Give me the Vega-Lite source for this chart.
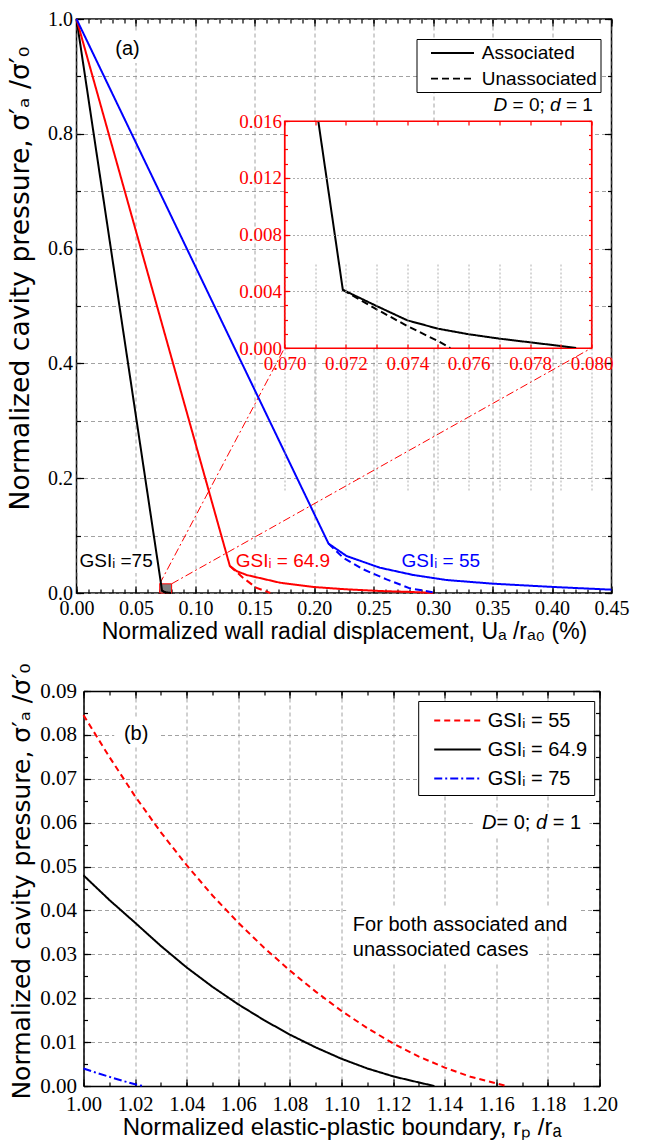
{
  "$schema": "https://vega.github.io/schema/vega-lite/v6.json",
  "padding": {"left": 6.5, "top": 8, "right": 0, "bottom": 0},
  "spacing": 98,
  "bounds": "flush",
  "resolve": {"scale": {"color": "independent", "strokeDash": "independent"}, "legend": {"color": "independent", "strokeDash": "independent"}},
  "datasets": {
    "curvesA": [
      {"g": "75", "t": "Associated", "u": 0, "p": 1},
      {"g": "75", "t": "Associated", "u": 0.0711, "p": 0.016},
      {"g": "75", "t": "Associated", "u": 0.0719, "p": 0.0041},
      {"g": "75", "t": "Associated", "u": 0.073, "p": 0.00296},
      {"g": "75", "t": "Associated", "u": 0.074, "p": 0.00195},
      {"g": "75", "t": "Associated", "u": 0.075, "p": 0.00136},
      {"g": "75", "t": "Associated", "u": 0.076, "p": 0.00097},
      {"g": "75", "t": "Associated", "u": 0.077, "p": 0.00066},
      {"g": "75", "t": "Associated", "u": 0.078, "p": 0.0004},
      {"g": "75", "t": "Associated", "u": 0.079, "p": 0.00014},
      {"g": "75", "t": "Associated", "u": 0.0795, "p": 0},
      {"g": "75", "t": "Unassociated", "u": 0.0719, "p": 0.0041},
      {"g": "75", "t": "Unassociated", "u": 0.073, "p": 0.00273},
      {"g": "75", "t": "Unassociated", "u": 0.074, "p": 0.00155},
      {"g": "75", "t": "Unassociated", "u": 0.075, "p": 0.00049},
      {"g": "75", "t": "Unassociated", "u": 0.0754, "p": 0},
      {"g": "64.9", "t": "Associated", "u": 0, "p": 1},
      {"g": "64.9", "t": "Associated", "u": 0.129, "p": 0.047},
      {"g": "64.9", "t": "Associated", "u": 0.1346, "p": 0.0383},
      {"g": "64.9", "t": "Associated", "u": 0.143, "p": 0.0314},
      {"g": "64.9", "t": "Associated", "u": 0.171, "p": 0.018},
      {"g": "64.9", "t": "Associated", "u": 0.199, "p": 0.0105},
      {"g": "64.9", "t": "Associated", "u": 0.227, "p": 0.0064},
      {"g": "64.9", "t": "Associated", "u": 0.255, "p": 0.0035},
      {"g": "64.9", "t": "Associated", "u": 0.283, "p": 0.0017},
      {"g": "64.9", "t": "Associated", "u": 0.3, "p": 0},
      {"g": "64.9", "t": "Unassociated", "u": 0.129, "p": 0.047},
      {"g": "64.9", "t": "Unassociated", "u": 0.14, "p": 0.0267},
      {"g": "64.9", "t": "Unassociated", "u": 0.151, "p": 0.0093},
      {"g": "64.9", "t": "Unassociated", "u": 0.163, "p": 0},
      {"g": "55", "t": "Associated", "u": 0, "p": 1},
      {"g": "55", "t": "Associated", "u": 0.212, "p": 0.086},
      {"g": "55", "t": "Associated", "u": 0.2271, "p": 0.0645},
      {"g": "55", "t": "Associated", "u": 0.2551, "p": 0.0441},
      {"g": "55", "t": "Associated", "u": 0.2832, "p": 0.0314},
      {"g": "55", "t": "Associated", "u": 0.3112, "p": 0.0226},
      {"g": "55", "t": "Associated", "u": 0.3505, "p": 0.0162},
      {"g": "55", "t": "Associated", "u": 0.401, "p": 0.0105},
      {"g": "55", "t": "Associated", "u": 0.45, "p": 0.0058},
      {"g": "55", "t": "Unassociated", "u": 0.212, "p": 0.086},
      {"g": "55", "t": "Unassociated", "u": 0.2243, "p": 0.0615},
      {"g": "55", "t": "Unassociated", "u": 0.2411, "p": 0.0413},
      {"g": "55", "t": "Unassociated", "u": 0.2608, "p": 0.0238},
      {"g": "55", "t": "Unassociated", "u": 0.2804, "p": 0.0081},
      {"g": "55", "t": "Unassociated", "u": 0.2972, "p": 0.0023},
      {"g": "55", "t": "Unassociated", "u": 0.303, "p": 0}
    ],
    "curvesB": [
      {"g": "GSIᵢ = 55", "r": 1, "p": 0.0845},
      {"g": "GSIᵢ = 55", "r": 1.01, "p": 0.075},
      {"g": "GSIᵢ = 55", "r": 1.02, "p": 0.066},
      {"g": "GSIᵢ = 55", "r": 1.03, "p": 0.0578},
      {"g": "GSIᵢ = 55", "r": 1.04, "p": 0.0503},
      {"g": "GSIᵢ = 55", "r": 1.05, "p": 0.0434},
      {"g": "GSIᵢ = 55", "r": 1.06, "p": 0.0372},
      {"g": "GSIᵢ = 55", "r": 1.07, "p": 0.0315},
      {"g": "GSIᵢ = 55", "r": 1.08, "p": 0.0263},
      {"g": "GSIᵢ = 55", "r": 1.09, "p": 0.0215},
      {"g": "GSIᵢ = 55", "r": 1.1, "p": 0.0171},
      {"g": "GSIᵢ = 55", "r": 1.11, "p": 0.0132},
      {"g": "GSIᵢ = 55", "r": 1.12, "p": 0.0097},
      {"g": "GSIᵢ = 55", "r": 1.13, "p": 0.0067},
      {"g": "GSIᵢ = 55", "r": 1.14, "p": 0.0042},
      {"g": "GSIᵢ = 55", "r": 1.15, "p": 0.0021},
      {"g": "GSIᵢ = 55", "r": 1.16, "p": 0.0006},
      {"g": "GSIᵢ = 55", "r": 1.164, "p": 0},
      {"g": "GSIᵢ = 64.9", "r": 1, "p": 0.048},
      {"g": "GSIᵢ = 64.9", "r": 1.01, "p": 0.0424},
      {"g": "GSIᵢ = 64.9", "r": 1.02, "p": 0.0372},
      {"g": "GSIᵢ = 64.9", "r": 1.03, "p": 0.0319},
      {"g": "GSIᵢ = 64.9", "r": 1.04, "p": 0.027},
      {"g": "GSIᵢ = 64.9", "r": 1.05, "p": 0.0226},
      {"g": "GSIᵢ = 64.9", "r": 1.06, "p": 0.0186},
      {"g": "GSIᵢ = 64.9", "r": 1.07, "p": 0.015},
      {"g": "GSIᵢ = 64.9", "r": 1.08, "p": 0.0117},
      {"g": "GSIᵢ = 64.9", "r": 1.09, "p": 0.0088},
      {"g": "GSIᵢ = 64.9", "r": 1.1, "p": 0.0062},
      {"g": "GSIᵢ = 64.9", "r": 1.11, "p": 0.004},
      {"g": "GSIᵢ = 64.9", "r": 1.12, "p": 0.0022},
      {"g": "GSIᵢ = 64.9", "r": 1.13, "p": 0.0008},
      {"g": "GSIᵢ = 64.9", "r": 1.136, "p": 0},
      {"g": "GSIᵢ = 75", "r": 1, "p": 0.004},
      {"g": "GSIᵢ = 75", "r": 1.005, "p": 0.003},
      {"g": "GSIᵢ = 75", "r": 1.01, "p": 0.0021},
      {"g": "GSIᵢ = 75", "r": 1.015, "p": 0.0012},
      {"g": "GSIᵢ = 75", "r": 1.02, "p": 0.0004},
      {"g": "GSIᵢ = 75", "r": 1.023, "p": 0}
    ]
  },
  "vconcat": [
    {
      "width": 535,
      "height": 574,
      "resolve": {"scale": {"x": "independent", "y": "independent"}, "axis": {"x": "independent", "y": "independent"}},
      "layer": [
        {
          "data": {"values": [{}]},
          "mark": {"type": "rect", "fill": "white"},
          "encoding": {
            "x": {"datum": 0.0278, "type": "quantitative", "scale": {"domain": [0, 0.45]},
              "axis": {"orient": "bottom", "values": [0, 0.05, 0.1, 0.15, 0.2, 0.25, 0.3, 0.35, 0.4, 0.45], "format": ".2f", "tickSize": -7, "labelPadding": 12, "labelFontSize": 20, "grid": true, "title": "Normalized wall radial displacement, Uₐ /rₐ₀ (%)", "titleFontSize": 23, "titlePadding": 2}},
            "x2": {"datum": 0.058},
            "y": {"datum": 0.9233, "type": "quantitative", "scale": {"domain": [0, 1]},
              "axis": {"orient": "left", "values": [0, 0.2, 0.4, 0.6, 0.8, 1], "format": ".1f", "tickSize": -7, "labelPadding": 11, "labelFontSize": 20, "grid": false, "title": "Normalized cavity pressure, σ′ₐ /σ′₀", "titleFont": "DejaVu Sans", "titleFontSize": 26.6, "titleX": -42, "titleY": 259, "titleBaseline": "bottom"}},
            "y2": {"datum": 0.9756}
          }
        },
        {
          "data": {"values": [{}]},
          "mark": {"type": "rect", "fill": "white"},
          "encoding": {
            "x": {"datum": 0.345, "type": "quantitative", "scale": {"domain": [0, 0.45]},
              "axis": {"orient": "bottom", "values": [0,0.01,0.02,0.03,0.04,0.05,0.06,0.07,0.08,0.09,0.1,0.11,0.12,0.13,0.14,0.15,0.16,0.17,0.18,0.19,0.2,0.21,0.22,0.23,0.24,0.25,0.26,0.27,0.28,0.29,0.3,0.31,0.32,0.33,0.34,0.35,0.36,0.37,0.38,0.39,0.4,0.41,0.42,0.43,0.44,0.45], "labels": false, "tickSize": -4, "grid": false, "title": null}},
            "x2": {"datum": 0.4376},
            "y": {"datum": 0.8223, "type": "quantitative", "scale": {"domain": [0, 1]},
              "axis": {"orient": "left", "values": [0,0.1,0.2,0.3,0.4,0.5,0.6,0.7,0.8,0.9,1], "labels": false, "tickSize": -4, "grid": true, "title": null}},
            "y2": {"datum": 0.8775}
          }
        },
        {
          "data": {"values": [{}]},
          "mark": {"type": "rect", "fill": "white"},
          "encoding": {
            "x": {"datum": 0.001, "type": "quantitative", "scale": {"domain": [0, 0.45]},
              "axis": {"orient": "top", "values": [0, 0.05, 0.1, 0.15, 0.2, 0.25, 0.3, 0.35, 0.4, 0.45], "labels": false, "tickSize": -7, "grid": false, "title": null}},
            "x2": {"datum": 0.0665},
            "y": {"datum": 0.035, "type": "quantitative", "scale": {"domain": [0, 1]},
              "axis": {"orient": "right", "values": [0, 0.2, 0.4, 0.6, 0.8, 1], "labels": false, "tickSize": -7, "grid": false, "title": null}},
            "y2": {"datum": 0.0767}
          }
        },
        {
          "data": {"values": [{}]},
          "mark": {"type": "rect", "fill": "white"},
          "encoding": {
            "x": {"datum": 0.1312, "type": "quantitative", "scale": {"domain": [0, 0.45]},
              "axis": {"orient": "top", "values": [0,0.01,0.02,0.03,0.04,0.05,0.06,0.07,0.08,0.09,0.1,0.11,0.12,0.13,0.14,0.15,0.16,0.17,0.18,0.19,0.2,0.21,0.22,0.23,0.24,0.25,0.26,0.27,0.28,0.29,0.3,0.31,0.32,0.33,0.34,0.35,0.36,0.37,0.38,0.39,0.4,0.41,0.42,0.43,0.44,0.45], "labels": false, "tickSize": -4, "grid": false, "title": null}},
            "x2": {"datum": 0.2205},
            "y": {"datum": 0.035, "type": "quantitative", "scale": {"domain": [0, 1]},
              "axis": {"orient": "right", "values": [0,0.1,0.2,0.3,0.4,0.5,0.6,0.7,0.8,0.9,1], "labels": false, "tickSize": -4, "grid": false, "title": null}},
            "y2": {"datum": 0.0767}
          }
        },
        {
          "data": {"values": [{}]},
          "mark": {"type": "rect", "fill": "white"},
          "encoding": {
            "x": {"datum": 0.2717, "type": "quantitative", "scale": {"domain": [0, 0.45]}, "axis": null},
            "x2": {"datum": 0.3449},
            "y": {"datum": 0.035, "type": "quantitative", "scale": {"domain": [0, 1]}, "axis": null},
            "y2": {"datum": 0.0767}
          }
        },
        {
          "data": {"values": [{}]},
          "mark": {"type": "rect", "fill": "#7f7f7f", "stroke": "red", "strokeWidth": 1},
          "encoding": {
            "x": {"datum": 0.07, "type": "quantitative", "scale": {"domain": [0, 0.45]}, "axis": null},
            "x2": {"datum": 0.08},
            "y": {"datum": 0, "type": "quantitative", "scale": {"domain": [0, 1]}, "axis": null},
            "y2": {"datum": 0.016}
          }
        },
        {
          "data": {"values": [{}]},
          "mark": {"type": "rule", "color": "red", "strokeWidth": 1, "strokeDash": [8, 3, 2, 3]},
          "encoding": {
            "x": {"datum": 0.07, "type": "quantitative", "scale": {"domain": [0, 0.45]}, "axis": null},
            "x2": {"datum": 0.175},
            "y": {"datum": 0.016, "type": "quantitative", "scale": {"domain": [0, 1]}, "axis": null},
            "y2": {"datum": 0.4268}
          }
        },
        {
          "data": {"values": [{}]},
          "mark": {"type": "rule", "color": "red", "strokeWidth": 1, "strokeDash": [8, 3, 2, 3]},
          "encoding": {
            "x": {"datum": 0.08, "type": "quantitative", "scale": {"domain": [0, 0.45]}, "axis": null},
            "x2": {"datum": 0.4332},
            "y": {"datum": 0.016, "type": "quantitative", "scale": {"domain": [0, 1]}, "axis": null},
            "y2": {"datum": 0.4268}
          }
        },
        {
          "data": {"name": "curvesA"},
          "mark": {"type": "line", "strokeWidth": 2},
          "encoding": {
            "x": {"field": "u", "type": "quantitative", "scale": {"domain": [0, 0.45]}, "axis": null},
            "y": {"field": "p", "type": "quantitative", "scale": {"domain": [0, 1]}, "axis": null},
            "color": {"field": "g", "type": "nominal", "scale": {"domain": ["55", "64.9", "75"], "range": ["#0000ff", "#ff0000", "#000000"]}, "legend": null},
            "strokeDash": {"field": "t", "type": "nominal", "scale": {"domain": ["Associated", "Unassociated"], "range": [[1, 0], [7, 4]]},
              "legend": {"orient": "none", "legendX": 340, "legendY": 20, "title": null, "padding": 3, "strokeColor": "black", "fillColor": "white", "symbolType": "M-2.15,0H2.15", "symbolSize": 400, "symbolStrokeWidth": 1.8, "symbolStrokeColor": "black", "symbolOffset": 22, "labelOffset": 18.3, "labelFontSize": 19, "rowPadding": 4.6, "labelLimit": 300}}
          }
        },
        {
          "data": {"values": [{}]},
          "mark": {"type": "text", "text": "GSIᵢ =75", "fontSize": 19, "align": "left", "baseline": "alphabetic"},
          "encoding": {
            "x": {"datum": 0.0025, "type": "quantitative", "scale": {"domain": [0, 0.45]}, "axis": null},
            "y": {"datum": 0.0453, "type": "quantitative", "scale": {"domain": [0, 1]}, "axis": null},
            "color": {"datum": "75", "type": "nominal"}
          }
        },
        {
          "data": {"values": [{}]},
          "mark": {"type": "text", "text": "GSIᵢ = 64.9", "fontSize": 19, "align": "left", "baseline": "alphabetic"},
          "encoding": {
            "x": {"datum": 0.134, "type": "quantitative", "scale": {"domain": [0, 0.45]}, "axis": null},
            "y": {"datum": 0.0453, "type": "quantitative", "scale": {"domain": [0, 1]}, "axis": null},
            "color": {"datum": "64.9", "type": "nominal"}
          }
        },
        {
          "data": {"values": [{}]},
          "mark": {"type": "text", "text": "GSIᵢ = 55", "fontSize": 19, "align": "left", "baseline": "alphabetic"},
          "encoding": {
            "x": {"datum": 0.2734, "type": "quantitative", "scale": {"domain": [0, 0.45]}, "axis": null},
            "y": {"datum": 0.0453, "type": "quantitative", "scale": {"domain": [0, 1]}, "axis": null},
            "color": {"datum": "55", "type": "nominal"}
          }
        },
        {
          "data": {"values": [{}]},
          "mark": {"type": "text", "text": "(a)", "fontSize": 20, "align": "center", "baseline": "middle", "color": "black"},
          "encoding": {
            "x": {"datum": 0.0429, "type": "quantitative", "scale": {"domain": [0, 0.45]}, "axis": null},
            "y": {"datum": 0.9477, "type": "quantitative", "scale": {"domain": [0, 1]}, "axis": null}
          }
        },
        {
          "data": {"values": [{}]},
          "mark": {"type": "text", "text": "D", "fontStyle": "italic", "fontSize": 19, "align": "left", "baseline": "alphabetic", "color": "black", "dx": 0},
          "encoding": {
            "x": {"datum": 0.3508, "type": "quantitative", "scale": {"domain": [0, 0.45]}, "axis": null},
            "y": {"datum": 0.8397, "type": "quantitative", "scale": {"domain": [0, 1]}, "axis": null}
          }
        },
        {
          "data": {"values": [{}]},
          "mark": {"type": "text", "text": "= 0;", "fontSize": 19, "align": "left", "baseline": "alphabetic", "color": "black", "dx": 19},
          "encoding": {
            "x": {"datum": 0.3508, "type": "quantitative", "scale": {"domain": [0, 0.45]}, "axis": null},
            "y": {"datum": 0.8397, "type": "quantitative", "scale": {"domain": [0, 1]}, "axis": null}
          }
        },
        {
          "data": {"values": [{}]},
          "mark": {"type": "text", "text": "d", "fontStyle": "italic", "fontSize": 19, "align": "left", "baseline": "alphabetic", "color": "black", "dx": 56.5},
          "encoding": {
            "x": {"datum": 0.3508, "type": "quantitative", "scale": {"domain": [0, 0.45]}, "axis": null},
            "y": {"datum": 0.8397, "type": "quantitative", "scale": {"domain": [0, 1]}, "axis": null}
          }
        },
        {
          "data": {"values": [{}]},
          "mark": {"type": "text", "text": "= 1", "fontSize": 19, "align": "left", "baseline": "alphabetic", "color": "black", "dx": 72.4},
          "encoding": {
            "x": {"datum": 0.3508, "type": "quantitative", "scale": {"domain": [0, 0.45]}, "axis": null},
            "y": {"datum": 0.8397, "type": "quantitative", "scale": {"domain": [0, 1]}, "axis": null}
          }
        },
        {
          "data": {"values": [{}]},
          "mark": {"type": "rect", "fill": "white", "stroke": "red", "strokeWidth": 1.2},
          "encoding": {
            "x": {"datum": 0.07, "type": "quantitative", "scale": {"domain": [0.07, 0.08], "range": [208, 515]},
              "axis": {"orient": "bottom", "offset": -245, "zindex": 1, "values": [0.07,0.071,0.072,0.073,0.074,0.075,0.076,0.077,0.078,0.079,0.08], "labelExpr": "round(datum.value*1000) % 2 == 0 ? format(datum.value, '.3f') : ''", "labelFontSize": 19, "labelColor": "red", "tickColor": "red", "tickSize": -4, "labelPadding": 10, "domain": true, "domainColor": "red", "domainWidth": 1.2, "grid": true, "gridColor": "#9a9a9a", "gridDash": [2, 2], "title": null}},
            "x2": {"datum": 0.08},
            "y": {"datum": 0, "type": "quantitative", "scale": {"domain": [0, 0.016], "range": [329, 102]},
              "axis": {"orient": "left", "offset": -208, "zindex": 1, "values": [0, 0.004, 0.008, 0.012, 0.016], "format": ".3f", "labelFontSize": 19, "labelColor": "red", "tickColor": "red", "tickSize": -5, "labelPadding": 8, "domain": true, "domainColor": "red", "domainWidth": 1.2, "grid": true, "gridColor": "#9a9a9a", "gridDash": [2, 2], "title": null}},
            "y2": {"datum": 0.016}
          }
        },
        {
          "data": {"name": "curvesA"},
          "transform": [{"filter": "datum.g == '75' && datum.t == 'Associated' && datum.u >= 0.0711"}],
          "mark": {"type": "line", "strokeWidth": 2, "color": "black"},
          "encoding": {
            "x": {"field": "u", "type": "quantitative", "scale": {"domain": [0.07, 0.08], "range": [208, 515]},
              "axis": {"orient": "top", "offset": -102, "zindex": 1, "values": [0.07,0.071,0.072,0.073,0.074,0.075,0.076,0.077,0.078,0.079,0.08], "labels": false, "tickColor": "red", "tickSize": -4, "domain": true, "domainColor": "red", "domainWidth": 1.2, "grid": false, "title": null}},
            "y": {"field": "p", "type": "quantitative", "scale": {"domain": [0, 0.016], "range": [329, 102]},
              "axis": {"orient": "left", "offset": -208, "zindex": 1, "values": [0,0.001,0.002,0.003,0.004,0.005,0.006,0.007,0.008,0.009,0.01,0.011,0.012,0.013,0.014,0.015,0.016], "labels": false, "tickColor": "red", "tickSize": -3, "domain": false, "grid": false, "title": null}},
            "strokeDash": {"field": "t", "type": "nominal"}
          }
        },
        {
          "data": {"name": "curvesA"},
          "transform": [{"filter": "datum.g == '75' && datum.t == 'Unassociated'"}],
          "mark": {"type": "line", "strokeWidth": 2, "color": "black"},
          "encoding": {
            "x": {"field": "u", "type": "quantitative", "scale": {"domain": [0.07, 0.08], "range": [208, 515]}, "axis": null},
            "y": {"field": "p", "type": "quantitative", "scale": {"domain": [0, 0.016], "range": [329, 102]},
              "axis": {"orient": "right", "offset": -20, "zindex": 1, "values": [0,0.001,0.002,0.003,0.004,0.005,0.006,0.007,0.008,0.009,0.01,0.011,0.012,0.013,0.014,0.015,0.016], "labels": false, "tickColor": "red", "tickSize": -3, "domain": true, "domainColor": "red", "domainWidth": 1.2, "grid": false, "title": null}},
            "strokeDash": {"field": "t", "type": "nominal"}
          }
        }
      ]
    },
    {
      "width": 523,
      "height": 395,
      "view": {"stroke": null},
      "resolve": {"axis": {"x": "independent", "y": "independent"}},
      "layer": [
        {
          "data": {"values": [{}]},
          "mark": {"type": "rect", "fill": "white"},
          "encoding": {
            "x": {"datum": 1.0119, "type": "quantitative", "scale": {"domain": [1, 1.2], "range": [7, 523]},
              "axis": {"orient": "bottom", "values": [1, 1.02, 1.04, 1.06, 1.08, 1.1, 1.12, 1.14, 1.16, 1.18, 1.2], "format": ".2f", "tickSize": -7, "labelPadding": 15, "labelFontSize": 20.5, "grid": true, "domain": true, "domainColor": "black", "domainWidth": 1.5, "title": "Normalized elastic-plastic boundary, rₚ /rₐ", "titleFontSize": 24, "titlePadding": 1}},
            "x2": {"datum": 1.029},
            "y": {"datum": 0.0775, "type": "quantitative", "scale": {"domain": [0, 0.09]},
              "axis": {"orient": "left", "offset": -7, "values": [0, 0.01, 0.02, 0.03, 0.04, 0.05, 0.06, 0.07, 0.08, 0.09], "format": ".2f", "tickSize": -7, "labelPadding": 14, "labelFontSize": 21, "grid": true, "domain": true, "domainColor": "black", "domainWidth": 1.5, "title": "Normalized cavity pressure, σ′ₐ /σ′₀", "titleFont": "DejaVu Sans", "titleFontSize": 25, "titleX": -49, "titleY": 190, "titleBaseline": "bottom"}},
            "y2": {"datum": 0.0838}
          }
        },
        {
          "data": {"values": [{}]},
          "mark": {"type": "rect", "fill": "white"},
          "encoding": {
            "x": {"datum": 1.1509, "type": "quantitative", "scale": {"domain": [1, 1.2], "range": [7, 523]},
              "axis": {"orient": "bottom", "values": [1,1.01,1.02,1.03,1.04,1.05,1.06,1.07,1.08,1.09,1.1,1.11,1.12,1.13,1.14,1.15,1.16,1.17,1.18,1.19,1.2], "labels": false, "tickSize": -4, "grid": false, "title": null}},
            "x2": {"datum": 1.1961},
            "y": {"datum": 0.0569, "type": "quantitative", "scale": {"domain": [0, 0.09]},
              "axis": {"orient": "left", "offset": -7, "values": [0,0.005,0.01,0.015,0.02,0.025,0.03,0.035,0.04,0.045,0.05,0.055,0.06,0.065,0.07,0.075,0.08,0.085,0.09], "labels": false, "tickSize": -4, "grid": false, "title": null}},
            "y2": {"datum": 0.0626}
          }
        },
        {
          "data": {"values": [{}]},
          "mark": {"type": "rect", "fill": "white"},
          "encoding": {
            "x": {"datum": 1.1018, "type": "quantitative", "scale": {"domain": [1, 1.2], "range": [7, 523]},
              "axis": {"orient": "top", "values": [1, 1.02, 1.04, 1.06, 1.08, 1.1, 1.12, 1.14, 1.16, 1.18, 1.2], "labels": false, "tickSize": -7, "grid": false, "domain": true, "domainColor": "black", "domainWidth": 1.5, "title": null}},
            "x2": {"datum": 1.1922},
            "y": {"datum": 0.0341, "type": "quantitative", "scale": {"domain": [0, 0.09]},
              "axis": {"orient": "right", "values": [0, 0.01, 0.02, 0.03, 0.04, 0.05, 0.06, 0.07, 0.08, 0.09], "labels": false, "tickSize": -7, "grid": false, "domain": true, "domainColor": "black", "domainWidth": 1.5, "title": null}},
            "y2": {"datum": 0.041}
          }
        },
        {
          "data": {"values": [{}]},
          "mark": {"type": "rect", "fill": "white"},
          "encoding": {
            "x": {"datum": 1.1018, "type": "quantitative", "scale": {"domain": [1, 1.2], "range": [7, 523]},
              "axis": {"orient": "top", "values": [1,1.01,1.02,1.03,1.04,1.05,1.06,1.07,1.08,1.09,1.1,1.11,1.12,1.13,1.14,1.15,1.16,1.17,1.18,1.19,1.2], "labels": false, "tickSize": -4, "grid": false, "title": null}},
            "x2": {"datum": 1.1757},
            "y": {"datum": 0.028, "type": "quantitative", "scale": {"domain": [0, 0.09]},
              "axis": {"orient": "right", "values": [0,0.005,0.01,0.015,0.02,0.025,0.03,0.035,0.04,0.045,0.05,0.055,0.06,0.065,0.07,0.075,0.08,0.085,0.09], "labels": false, "tickSize": -4, "grid": false, "title": null}},
            "y2": {"datum": 0.0341}
          }
        },
        {
          "data": {"name": "curvesB"},
          "mark": {"type": "line", "strokeWidth": 2},
          "encoding": {
            "x": {"field": "r", "type": "quantitative", "scale": {"domain": [1, 1.2], "range": [7, 523]}, "axis": null},
            "y": {"field": "p", "type": "quantitative", "scale": {"domain": [0, 0.09]}, "axis": null},
            "color": {"field": "g", "type": "nominal", "scale": {"domain": ["GSIᵢ = 55", "GSIᵢ = 64.9", "GSIᵢ = 75"], "range": ["#ff0000", "#000000", "#0000ff"]},
              "legend": {"orient": "none", "legendX": 341.7, "legendY": 10, "title": null, "padding": 6.5, "strokeColor": "black", "fillColor": "white", "symbolType": "M-1.94,0H1.94", "symbolSize": 576, "symbolStrokeWidth": 1.8, "symbolOffset": 19.8, "labelOffset": 17.3, "labelFontSize": 20, "rowPadding": 6, "labelLimit": 300}},
            "strokeDash": {"field": "g", "type": "nominal", "scale": {"domain": ["GSIᵢ = 55", "GSIᵢ = 64.9", "GSIᵢ = 75"], "range": [[6, 4], [1, 0], [8, 3, 2, 3]]},
              "legend": {"orient": "none", "legendX": 341.7, "legendY": 10, "title": null, "padding": 6.5, "strokeColor": "black", "fillColor": "white", "symbolType": "M-1.94,0H1.94", "symbolSize": 576, "symbolStrokeWidth": 1.8, "symbolOffset": 19.8, "labelOffset": 17.3, "labelFontSize": 20, "rowPadding": 6, "labelLimit": 300}}
          }
        },
        {
          "data": {"values": [{}]},
          "mark": {"type": "text", "text": "(b)", "fontSize": 20, "align": "center", "baseline": "middle", "color": "black"},
          "encoding": {
            "x": {"datum": 1.0204, "type": "quantitative", "scale": {"domain": [1, 1.2], "range": [7, 523]}, "axis": null},
            "y": {"datum": 0.0802, "type": "quantitative", "scale": {"domain": [0, 0.09]}, "axis": null}
          }
        },
        {
          "data": {"values": [{}]},
          "mark": {"type": "text", "text": "D", "fontStyle": "italic", "fontSize": 20, "align": "left", "baseline": "alphabetic", "color": "black", "dx": 0},
          "encoding": {
            "x": {"datum": 1.1545, "type": "quantitative", "scale": {"domain": [1, 1.2], "range": [7, 523]}, "axis": null},
            "y": {"datum": 0.0585, "type": "quantitative", "scale": {"domain": [0, 0.09]}, "axis": null}
          }
        },
        {
          "data": {"values": [{}]},
          "mark": {"type": "text", "text": "= 0;", "fontSize": 20, "align": "left", "baseline": "alphabetic", "color": "black", "dx": 14.4},
          "encoding": {
            "x": {"datum": 1.1545, "type": "quantitative", "scale": {"domain": [1, 1.2], "range": [7, 523]}, "axis": null},
            "y": {"datum": 0.0585, "type": "quantitative", "scale": {"domain": [0, 0.09]}, "axis": null}
          }
        },
        {
          "data": {"values": [{}]},
          "mark": {"type": "text", "text": "d", "fontStyle": "italic", "fontSize": 20, "align": "left", "baseline": "alphabetic", "color": "black", "dx": 53.9},
          "encoding": {
            "x": {"datum": 1.1545, "type": "quantitative", "scale": {"domain": [1, 1.2], "range": [7, 523]}, "axis": null},
            "y": {"datum": 0.0585, "type": "quantitative", "scale": {"domain": [0, 0.09]}, "axis": null}
          }
        },
        {
          "data": {"values": [{}]},
          "mark": {"type": "text", "text": "= 1", "fontSize": 20, "align": "left", "baseline": "alphabetic", "color": "black", "dx": 70.6},
          "encoding": {
            "x": {"datum": 1.1545, "type": "quantitative", "scale": {"domain": [1, 1.2], "range": [7, 523]}, "axis": null},
            "y": {"datum": 0.0585, "type": "quantitative", "scale": {"domain": [0, 0.09]}, "axis": null}
          }
        },
        {
          "data": {"values": [{}]},
          "mark": {"type": "text", "text": ["For both associated and", "unassociated cases"], "lineHeight": 25, "fontSize": 20, "align": "left", "baseline": "alphabetic", "color": "black"},
          "encoding": {
            "x": {"datum": 1.1044, "type": "quantitative", "scale": {"domain": [1, 1.2], "range": [7, 523]}, "axis": null},
            "y": {"datum": 0.03529, "type": "quantitative", "scale": {"domain": [0, 0.09]}, "axis": null}
          }
        }
      ]
    }
  ],
  "config": {
    "view": {"stroke": "black", "strokeWidth": 1.5},
    "axis": {"domain": false, "labelFont": "Liberation Serif, Tinos, Times New Roman, DejaVu Serif, serif", "labelColor": "black", "tickColor": "black", "tickWidth": 1.2, "gridColor": "#8a8a8a", "gridWidth": 0.8, "gridDash": [4, 3], "titleFont": "Liberation Sans", "titleFontWeight": "normal", "titleColor": "black", "labelOverlap": false, "labelFlush": false, "labelBound": false},
    "legend": {"labelFont": "Liberation Sans", "labelColor": "black"},
    "text": {"font": "Liberation Sans"}
  }
}
